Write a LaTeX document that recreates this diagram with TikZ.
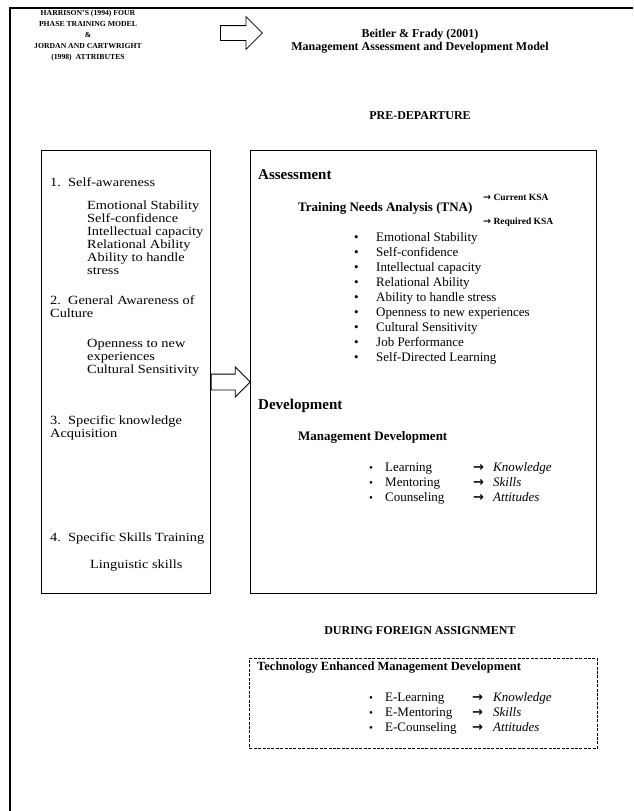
\documentclass[tikz,border=0pt]{standalone}
\usepackage{fontspec}
\setmainfont{Liberation Serif}
\newfontfamily\widefont[FakeStretch=1.15]{Liberation Serif}
\newfontfamily\arrowfont{DejaVu Sans}
\newcommand{\ksaarrow}{{\arrowfont\bfseries →}}
\newcommand{\smallbullet}{{\fontsize{11}{11}\selectfont •}}
\usetikzlibrary{shapes.arrows, positioning}
\tikzset{
    frameline/.style={line width=1.3pt},
    panel/.style={rectangle, draw, line width=0.8pt, inner sep=0pt},
    dashpanel/.style={rectangle, draw, line width=0.9pt, dash pattern=on 3pt off 1.4pt, inner sep=0pt},
    blockarrow/.style={single arrow, draw, line width=0.8pt, inner xsep=0pt},
    capsnote/.style={align=center, inner sep=0pt, font=\bfseries\fontsize{7.7}{11}\selectfont},
    titletext/.style={align=center, inner sep=0pt, font=\bfseries\fontsize{12}{12.5}\selectfont},
    bighead/.style={inner sep=0pt, font=\bfseries\fontsize{15}{17}\selectfont},
    subhead/.style={inner sep=0pt, font=\bfseries\fontsize{13}{15}\selectfont},
    smallnote/.style={inner sep=0pt, font=\bfseries\fontsize{9.5}{11}\selectfont},
    listtext/.style={inner sep=0pt, align=left, font=\fontsize{13}{15}\selectfont},
    lefttext/.style={inner sep=0pt, align=left, font=\widefont\fontsize{12.5}{13}\selectfont}
}

\begin{document}
\begin{tikzpicture}[x=1pt, y=-1pt]
  \useasboundingbox (0,0) rectangle (633,811);
  % outer frame (only top and left edge show)
  \draw[frameline] (633,8) -- (10,8) -- (10,811);

  % header
  \node[capsnote] (harrison) at (88,36) {HARRISON'S (1994) FOUR\\PHASE TRAINING MODEL\\\&\\JORDAN AND CARTWRIGHT\\(1998)\ \ ATTRIBUTES};
  \node[blockarrow, inner ysep=7pt, minimum height=42pt, single arrow head extend=9pt, anchor=tail] (toparrow) at (220,33) {};
  \node[titletext] (beitler) at (420,41) {Beitler \& Frady (2001)\\Management Assessment and Development Model};
  \node[titletext] (predep) at (420,116) {PRE-DEPARTURE};

  % the two panels
  \node[panel, minimum width=169pt, minimum height=443pt, anchor=north west] (leftbox) at (41,150) {};
  \node[panel, minimum width=346pt, minimum height=443pt, right=39pt of leftbox] (rightbox) {};
  \coordinate (midlevel) at (0,382);
  \node[blockarrow, inner ysep=7.5pt, minimum height=39pt, single arrow head extend=7pt, anchor=tail] (midarrow) at (leftbox.east |- midlevel) {};

  % left panel
  \node[lefttext, anchor=west] (selfaw) at (50,182) {1.\ \ Self-awareness};
  \node[lefttext, anchor=north west] (selfitems) at (87,201) {Emotional Stability\\Self-confidence\\Intellectual capacity\\Relational Ability\\Ability to handle\\stress};
  \node[lefttext, anchor=north west] (genaw) at (50,295) {2.\ \ General Awareness of\\Culture};
  \node[lefttext, anchor=north west] (genitems) at (87,339) {Openness to new\\experiences\\Cultural Sensitivity};
  \node[lefttext, anchor=north west] (specknow) at (50,415) {3.\ \ Specific knowledge\\Acquisition};
  \node[lefttext, anchor=west] (specskill) at (50,538) {4.\ \ Specific Skills Training};
  \node[lefttext, anchor=west] (lingu) at (90,566) {Linguistic skills};

  % right panel: assessment
  \node[bighead, anchor=west] (assess) at (258,175) {Assessment};
  \node[subhead, anchor=west] (tna) at (298,208) {Training Needs Analysis (TNA)};
  \node[smallnote, anchor=west] (curksa) at (483,197) {\ksaarrow\ Current KSA};
  \node[smallnote, anchor=west] (reqksa) at (483,222) {\ksaarrow\ Required KSA};
  \node[listtext, anchor=north west] (tnalist) at (354,231) {\begin{tabular}{@{}p{22pt}@{}l@{}}
    • & Emotional Stability\\
    • & Self-confidence\\
    • & Intellectual capacity\\
    • & Relational Ability\\
    • & Ability to handle stress\\
    • & Openness to new experiences\\
    • & Cultural Sensitivity\\
    • & Job Performance\\
    • & Self-Directed Learning
  \end{tabular}};

  % right panel: development
  \node[bighead, anchor=west] (develop) at (258,406) {Development};
  \node[subhead, anchor=west] (mgmtdev) at (298,437) {Management Development};
  \node[listtext, anchor=north west] (devlist) at (369,461) {\begin{tabular}{@{}p{16pt}@{}p{88pt}@{}p{20pt}@{}l@{}}
    \smallbullet & Learning & \ksaarrow & \textit{Knowledge}\\
    \smallbullet & Mentoring & \ksaarrow & \textit{Skills}\\
    \smallbullet & Counseling & \ksaarrow & \textit{Attitudes}
  \end{tabular}};

  % during assignment
  \node[titletext] (during) at (420,631) {DURING FOREIGN ASSIGNMENT};
  \node[dashpanel, minimum width=348pt, minimum height=90pt, anchor=north west] (techbox) at (249,658) {};
  \node[subhead, anchor=west, font=\bfseries\fontsize{12.5}{15}\selectfont] (techdev) at (257,668) {Technology Enhanced Management Development};
  \node[listtext, anchor=north west] (elist) at (369,691) {\begin{tabular}{@{}p{16pt}@{}p{87pt}@{}p{21pt}@{}l@{}}
    \smallbullet & E-Learning & \ksaarrow & \textit{Knowledge}\\
    \smallbullet & E-Mentoring & \ksaarrow & \textit{Skills}\\
    \smallbullet & E-Counseling & \ksaarrow & \textit{Attitudes}
  \end{tabular}};
\end{tikzpicture}
\end{document}
